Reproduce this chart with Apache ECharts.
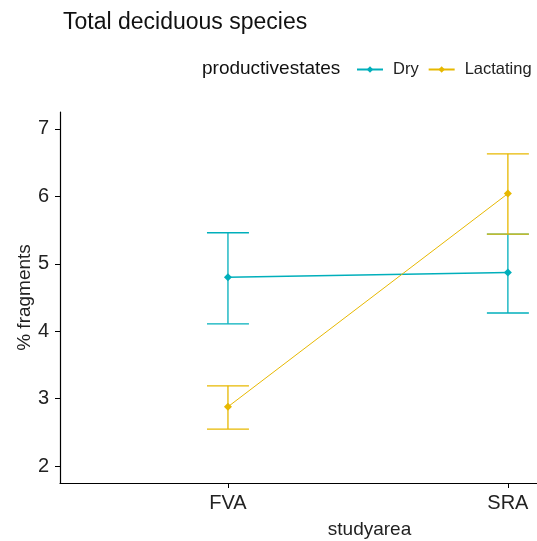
<!DOCTYPE html>
<html>
<head>
<meta charset="utf-8">
<script src="https://cdn.jsdelivr.net/npm/echarts@6/dist/echarts.min.js"></script>
<style>
  html, body { margin: 0; padding: 0; background: #fff; }
  #chart { width: 537px; height: 541px; }
</style>
</head>
<body>
<div id="chart"></div>
<script>
// categories on the x axis, placed at 1 and 2 like ggplot does
const areas = ['FVA', 'SRA'];
const states = ['Dry', 'Lactating'];
const yTicks = [2, 3, 4, 5, 6, 7];

// means and error bar ends
const dryMean = [4.80, 4.87];
const dryLow = [4.11, 4.27];
const dryHigh = [5.46, 5.44];
const lactMean = [2.88, 6.04];
const lactLow = [2.55, 5.44];
const lactHigh = [3.19, 6.63];

const colors = ['#00AFBB', '#E7B800'];
const font = '"Liberation Sans", Arial, sans-serif';

function points(vals) {
  return vals.map((v, i) => [i + 1, v]);
}
function bars(low, high) {
  return low.map((v, i) => [i + 1, v, high[i]]);
}

// error bar with caps
function errRender(params, api) {
  const x = api.value(0);
  const lo = api.coord([x, api.value(1)]);
  const hi = api.coord([x, api.value(2)]);
  const half = api.size([0.075, 0])[0];
  const style = { stroke: api.visual('color'), lineWidth: 1.3 };
  return {
    type: 'group',
    children: [
      { type: 'line', shape: { x1: lo[0], y1: lo[1], x2: hi[0], y2: hi[1] }, style: style },
      { type: 'line', shape: { x1: hi[0] - half, y1: hi[1], x2: hi[0] + half, y2: hi[1] }, style: style },
      { type: 'line', shape: { x1: lo[0] - half, y1: lo[1], x2: lo[0] + half, y2: lo[1] }, style: style }
    ]
  };
}

const chart = echarts.init(document.getElementById('chart'));
const option = {
  animation: false,
  title: {
    text: 'Total deciduous species',
    left: 58,
    top: 6,
    textStyle: { fontFamily: font, fontSize: 23, fontWeight: 'normal', color: '#111' }
  },
  graphic: [{
    type: 'text',
    left: 202,
    top: 59,
    style: { text: 'productivestates', fontFamily: font, fontSize: 19, fill: '#111' }
  }],
  legend: {
    left: 356,
    top: 61,
    width: 190,
    padding: 0,
    data: states,
    itemWidth: 26,
    itemHeight: 8,
    itemGap: 9,
    textStyle: { fontFamily: font, fontSize: 16.5, color: '#222', padding: [0, 0, 0, 5] }
  },
  grid: { left: 60, top: 112, bottom: 58, right: 0, outerBoundsMode: 'none' },
  xAxis: {
    type: 'value',
    // the reference plot is cut off on the right
    min: 0.4,
    max: 2.104,
    name: 'studyarea',
    nameLocation: 'middle',
    nameGap: 37,
    nameTextStyle: { fontFamily: font, fontSize: 19, color: '#222', padding: [0, 0, 0, 142] },
    splitLine: { show: false },
    axisLine: { lineStyle: { color: '#000', width: 1.2 } },
    axisTick: { show: true, length: 5, customValues: [1, 2], lineStyle: { color: '#000' } },
    axisLabel: {
      customValues: [1, 2],
      formatter: v => areas[Math.round(v) - 1],
      fontFamily: font, fontSize: 20, color: '#222', margin: 10
    }
  },
  yAxis: {
    type: 'value',
    min: 1.75,
    max: 7.25,
    name: '% fragments',
    nameLocation: 'middle',
    nameGap: 26,
    nameMoveOverlap: false,
    nameTextStyle: { fontFamily: font, fontSize: 19, color: '#222' },
    splitLine: { show: false },
    axisLine: { show: true, lineStyle: { color: '#000', width: 1.2 } },
    axisTick: { show: true, length: 5, customValues: yTicks, lineStyle: { color: '#000' } },
    axisLabel: {
      customValues: yTicks,
      fontFamily: font, fontSize: 20, color: '#222', margin: 11
    }
  },
  series: [
    {
      name: 'Dry', type: 'line', data: points(dryMean),
      symbol: 'diamond', symbolSize: 8, color: colors[0],
      lineStyle: { width: 1.5 }, z: 3
    },
    {
      name: 'Lactating', type: 'line', data: points(lactMean),
      symbol: 'diamond', symbolSize: 8, color: colors[1],
      lineStyle: { width: 1 }, z: 3
    },
    {
      name: 'Dry', type: 'custom', renderItem: errRender,
      data: bars(dryLow, dryHigh), itemStyle: { color: colors[0] }, z: 2
    },
    {
      name: 'Lactating', type: 'custom', renderItem: errRender,
      data: bars(lactLow, lactHigh), itemStyle: { color: colors[1] }, z: 2
    }
  ]
};
chart.setOption(option);
</script>
</body>
</html>
